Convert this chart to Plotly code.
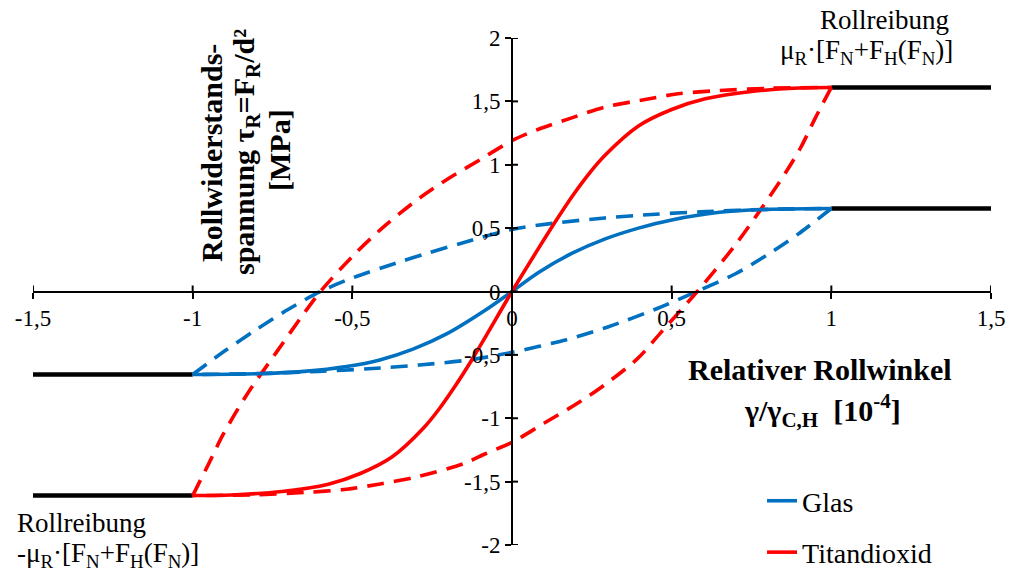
import plotly.graph_objects as go

# ---- data ----
X_TICKS = [-1.5, -1, -0.5, 0, 0.5, 1, 1.5]
X_TICKTEXT = ["-1,5", "-1", "-0,5", "0", "0,5", "1", "1,5"]
Y_TICKS = [-2, -1.5, -1, -0.5, 0, 0.5, 1, 1.5, 2]
Y_TICKTEXT = ["-2", "-1,5", "-1", "-0,5", "0", "0,5", "1", "1,5", "2"]

# solid (virgin) curves
glas_x = [-1, -0.8, -0.65, -0.518, -0.414, -0.31, -0.205, -0.09, 0,
          0.083, 0.187, 0.292, 0.396, 0.5, 0.65, 0.8, 1]
glas_y = [-0.655, -0.649, -0.63, -0.592, -0.54, -0.455, -0.335, -0.158, 0,
          0.15, 0.30, 0.415, 0.50, 0.565, 0.625, 0.648, 0.655]
tio2_x = [-1, -0.88, -0.72, -0.575, -0.475, -0.376, -0.277, -0.227, -0.178, -0.128, -0.079, 0,
          0.083, 0.135, 0.187, 0.239, 0.292, 0.396, 0.5, 0.605, 0.75, 0.9, 1]
tio2_y = [-1.61, -1.605, -1.578, -1.52, -1.436, -1.306, -1.077, -0.923, -0.746, -0.548, -0.34, 0,
          0.34, 0.548, 0.746, 0.923, 1.077, 1.306, 1.436, 1.52, 1.578, 1.605, 1.61]

# dashed hysteresis branches
glas_up_x = [-1, -0.9, -0.8, -0.7, -0.6, -0.497, -0.35, -0.267, -0.153, 0,
             0.135, 0.29, 0.45, 0.605, 0.8, 1]
glas_up_y = [-0.655, -0.47, -0.30, -0.14, 0, 0.11, 0.235, 0.30, 0.385, 0.49,
             0.54, 0.58, 0.61, 0.63, 0.648, 0.655]
glas_dn_x = [1, 0.9, 0.8, 0.7, 0.578, 0.453, 0.3, 0.171, 0,
             -0.135, -0.29, -0.45, -0.605, -0.8, -1]
glas_dn_y = [0.655, 0.46, 0.29, 0.14, 0, -0.136, -0.28, -0.38, -0.48,
             -0.54, -0.58, -0.61, -0.63, -0.648, -0.655]
tio2_up_x = [-1, -0.95, -0.905, -0.832, -0.738, -0.665, -0.6, -0.487, -0.393, -0.288, -0.2, -0.1, 0,
             0.083, 0.187, 0.29, 0.417, 0.52, 0.645, 0.8, 1]
tio2_up_y = [-1.61, -1.36, -1.13, -0.82, -0.48, -0.22, 0, 0.31, 0.53, 0.74, 0.89, 1.04, 1.19,
             1.28, 1.37, 1.455, 1.515, 1.56, 1.585, 1.603, 1.61]
tio2_dn_x = [1, 0.95, 0.905, 0.86, 0.777, 0.694, 0.58, 0.464, 0.393, 0.288, 0.2, 0.1, 0,
             -0.083, -0.153, -0.31, -0.417, -0.518, -0.645, -0.8, -1]
tio2_dn_y = [1.61, 1.37, 1.14, 0.95, 0.64, 0.35, 0, -0.33, -0.53, -0.74, -0.89, -1.04, -1.19,
             -1.28, -1.36, -1.47, -1.52, -1.56, -1.585, -1.603, -1.61]

# friction plateaus (black)
SAT_GLAS = 0.655
SAT_TIO2 = 1.61
plateau_left_x = [-1.5, -1]
plateau_right_x = [1, 1.5]

BLUE = "#0070C0"
RED = "#FF0000"
FONT = '"Liberation Serif", "Times New Roman", Tinos, "DejaVu Serif", serif'
DASH = "17px,10px"

fig = go.Figure()

def add_line(x, y, color, dash="solid", width=3.6, name=None, show=False, group=None):
    fig.add_trace(go.Scatter(
        x=x, y=y, mode="lines", name=name, showlegend=show, legendgroup=group,
        line=dict(color=color, width=width, dash=dash, shape="spline", smoothing=0.8),
        hoverinfo="skip"))

for sat in (SAT_GLAS, SAT_TIO2):
    add_line(plateau_left_x, [-sat, -sat], "black", width=4.5)
    add_line(plateau_right_x, [sat, sat], "black", width=4.5)

add_line(glas_up_x, glas_up_y, BLUE, dash=DASH)
add_line(glas_dn_x, glas_dn_y, BLUE, dash=DASH)
add_line(tio2_up_x, tio2_up_y, RED, dash=DASH)
add_line(tio2_dn_x, tio2_dn_y, RED, dash=DASH)
add_line(glas_x, glas_y, BLUE, name="Glas", show=True, group="g")
add_line(tio2_x, tio2_y, RED, name="Titandioxid", show=True, group="t")

# tick halves on the other side of the axes
shapes = []
for v in X_TICKS:
    shapes.append(dict(type="line", xref="x", yref="y", x0=v, x1=v,
                       ysizemode="pixel", yanchor=0, y0=0, y1=6,
                       line=dict(color="black", width=2)))
for v in Y_TICKS:
    shapes.append(dict(type="line", xref="x", yref="y", y0=v, y1=v,
                       xsizemode="pixel", xanchor=0, x0=0, x1=6,
                       line=dict(color="black", width=2)))

# screen position (px) -> paper coordinates, plot area 33..991 x 38..545
def px(sx):
    return (sx - 33) / 958.0

def py(sy):
    return (545 - sy) / 507.0

note_font = dict(family=FONT, size=27, color="black")
title_font = dict(family=FONT, size=30, color="black")
MU = "μ<sub>R</sub>·[F<sub>N</sub>+F<sub>H</sub>(F<sub>N</sub>)]"

def note(text, sx, sy, font, xanchor="center", angle=0):
    return dict(xref="paper", yref="paper", x=px(sx), y=py(sy), xanchor=xanchor,
                yanchor="middle", text=text, showarrow=False, font=font, textangle=angle)

annotations = [
    note("Rollreibung", 884, 20, note_font),
    note(MU, 866, 52, note_font),
    note("Rollreibung", 15, 523, note_font, xanchor="left"),
    note("-" + MU, 15, 555, note_font, xanchor="left"),
    note("<b>Relativer Rollwinkel</b>", 820, 369, title_font),
    note("<b>γ/γ<sub>C,H</sub>  [10<sup>-4</sup>]</b>", 822, 410, title_font),
    note("<b>Rollwiderstands-</b>", 211, 153, title_font, angle=-90),
    note("<b>spannung τ<sub>R</sub>=F<sub>R</sub>/d²</b>", 246, 152, title_font, angle=-90),
    note("<b>[MPa]</b>", 279, 150, title_font, angle=-90),
]

axis_common = dict(anchor="free", position=0.5, showline=True, linecolor="black", linewidth=2,
                   ticks="outside", ticklen=6, tickwidth=2, tickcolor="black",
                   showgrid=False, zeroline=False, automargin=False,
                   tickfont=dict(family=FONT, size=23, color="black"))

fig.update_layout(
    width=1011, height=574,
    margin=dict(l=33, r=20, t=38, b=29, autoexpand=False),
    paper_bgcolor="white", plot_bgcolor="white",
    font=dict(family=FONT, size=23, color="black"),
    xaxis=dict(range=[-1.5, 1.5], tickvals=X_TICKS, ticktext=X_TICKTEXT, **axis_common),
    yaxis=dict(range=[-2, 2], tickvals=Y_TICKS, ticktext=Y_TICKTEXT, **axis_common),
    legend=dict(x=0.761, y=0.136, xanchor="left", yanchor="top",
                font=dict(family=FONT, size=28, color="black"),
                bgcolor="rgba(0,0,0,0)", tracegroupgap=12),
    shapes=shapes,
    annotations=annotations,
)

fig.write_html("out.html", config={"displayModeBar": False},
               post_script="document.body.style.margin='0px';")
